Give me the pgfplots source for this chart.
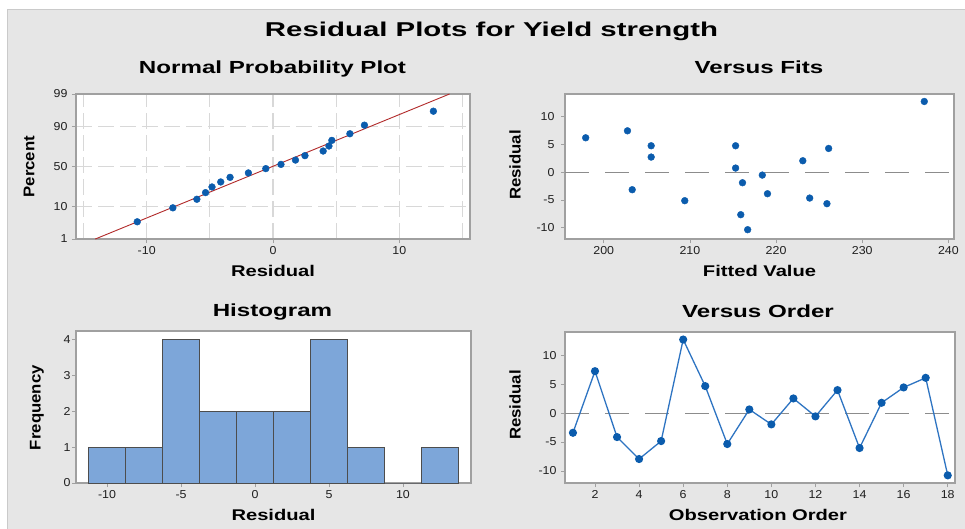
\documentclass[border=0pt]{standalone}
\usepackage{pgfplots}
\pgfplotsset{compat=1.18}
\usepackage{fontspec}
\setmainfont{Liberation Sans}
\newfontfamily\tickfont[FakeStretch=1.08]{Liberation Sans}
\newfontfamily\labfont[FakeStretch=1.30]{Liberation Sans}
\newfontfamily\ylabfont[FakeStretch=1.08]{Liberation Sans}
\newfontfamily\subfont[FakeStretch=1.38]{Liberation Sans}
\newfontfamily\bigttlfont[FakeStretch=1.47]{Liberation Sans}

\definecolor{bggray}{HTML}{E6E6E6}
\definecolor{bgline}{HTML}{CACACA}
\definecolor{framegray}{HTML}{A0A0A0}
\definecolor{gridgray}{HTML}{D8D8D8}
\definecolor{refgray}{HTML}{8C8C8C}
\definecolor{ptblue}{HTML}{0B5CAD}
\definecolor{lineblue}{HTML}{2E74C2}
\definecolor{barblue}{HTML}{7DA6D9}
\definecolor{baredge}{HTML}{4D4D4D}
\definecolor{fitred}{HTML}{B22A2A}

\pgfplotsset{
  mystyle/.style={
    scale only axis,
    anchor=south west,
    axis background/.style={fill=white},
    axis line style={draw=framegray, line width=1.1pt},
    tick style={draw=framegray, line width=0.8pt},
    tick align=outside,
    major tick length=4pt,
    minor tick length=0pt,
    tick pos=left,
    tick label style={font=\tickfont\fontsize{11.5}{13}\selectfont, text=black!88},
    /pgf/number format/assume math mode=true,
  },
  ptstyle/.style={only marks, mark=*, mark size=3.4pt, mark options={draw=ptblue, fill=ptblue}},
  refline/.style={refgray, line width=1.1pt, dash pattern=on 24pt off 16pt, forget plot},
}

\begin{document}
\begin{tikzpicture}
\fill[white] (0,0) rectangle (965pt,528pt);
\filldraw[fill=bggray, draw=bgline, line width=0.6pt] (7pt,-1pt) rectangle (966pt,519pt);

% ---------- Normal probability plot ----------
\begin{axis}[mystyle, at={(76pt,289pt)}, width=394pt, height=145pt,
  xmin=-15.6, xmax=15.6, ymin=-2.326, ymax=2.326,
  xtick={-10,0,10}, minor xtick={-15,-5,5,15},
  ytick={-2.326,-1.2816,0,1.2816,2.326}, yticklabels={1,10,50,90,99},
  grid=both,
  major grid style={gridgray, line width=1.1pt, dash pattern=on 16pt off 6pt},
  minor grid style={gridgray, line width=1.1pt, dash pattern=on 16pt off 6pt},
  yticklabel style={xshift=-1pt}]
\addplot[fitred, line width=0.9pt] coordinates {(-14.07,-2.326) (13.98,2.326)};
\addplot[ptstyle] table {
x z
-10.75 -1.774
-7.93 -1.326
-6.03 -1.051
-5.34 -0.838
-4.83 -0.657
-4.14 -0.496
-3.40 -0.348
-1.95 -0.206
-0.57 -0.068
0.63 0.068
1.78 0.206
2.53 0.348
3.97 0.496
4.43 0.657
4.66 0.838
6.09 1.051
7.24 1.326
12.70 1.774
};
\end{axis}

% ---------- Versus fits ----------
\begin{axis}[mystyle, at={(565pt,289pt)}, width=389pt, height=145pt,
  xmin=195.5, xmax=240.65, ymin=-12, ymax=14,
  xtick={200,210,220,230,240}, ytick={-10,-5,0,5,10},
  yticklabel style={xshift=-3pt}]
\addplot[refline] coordinates {(195.5,0) (240.65,0)};
\addplot[ptstyle] table {
fit res
197.9 6.15
202.75 7.40
203.3 -3.16
205.5 4.72
205.5 2.69
209.4 -5.13
215.3 4.72
215.3 0.72
215.9 -7.64
216.1 -1.91
216.7 -10.33
218.4 -0.54
219.0 -3.88
223.1 2.03
223.9 -4.66
225.9 -5.67
226.1 4.24
237.2 12.66
};
\end{axis}

% ---------- Histogram ----------
\begin{axis}[mystyle, at={(76pt,45pt)}, width=395pt, height=152pt,
  xmin=-12.1, xmax=14.6, ymin=0, ymax=4.23,
  xtick={-10,-5,0,5,10}, ytick={0,1,2,3,4},
  yticklabel style={xshift=2pt}]
\addplot[ybar interval, fill=barblue, draw=baredge, line width=1pt] coordinates {
(-11.25,1) (-8.75,1) (-6.25,4) (-3.75,2) (-1.25,2) (1.25,2) (3.75,4) (6.25,1) (8.75,0) (11.25,1) (13.75,1)};
\end{axis}

% ---------- Versus order ----------
\begin{axis}[mystyle, at={(565pt,45pt)}, width=390pt, height=151pt,
  xmin=0.64, xmax=18.33, ymin=-12.07, ymax=14,
  xtick={2,4,6,8,10,12,14,16,18}, ytick={-10,-5,0,5,10},
  yticklabel style={xshift=-1pt}]
\addplot[refline] coordinates {(0.64,0) (18.33,0)};
\addplot[lineblue, line width=1.3pt, mark=*, mark size=3.4pt, mark options={draw=ptblue, fill=ptblue}] table {
obs res
1 -3.40
2 7.24
3 -4.14
4 -7.93
5 -4.83
6 12.70
7 4.66
8 -5.34
9 0.63
10 -1.95
11 2.53
12 -0.57
13 3.97
14 -6.03
15 1.78
16 4.43
17 6.09
18 -10.75
};
\end{axis}

% ---------- Titles and labels ----------
\node[anchor=base, font=\bigttlfont\bfseries\fontsize{20}{24}\selectfont] at (491.5pt,491.3pt) {Residual Plots for Yield strength};
\node[anchor=base, font=\subfont\bfseries\fontsize{17.5}{20}\selectfont] at (272.5pt,454pt) {Normal Probability Plot};
\node[anchor=base, font=\subfont\bfseries\fontsize{17.5}{20}\selectfont] at (759pt,454pt) {Versus Fits};
\node[anchor=base, font=\subfont\bfseries\fontsize{17.5}{20}\selectfont] at (272.5pt,211.3pt) {Histogram};
\node[anchor=base, font=\subfont\bfseries\fontsize{17.5}{20}\selectfont] at (758pt,210.7pt) {Versus Order};

\node[anchor=base, font=\labfont\bfseries\fontsize{15.5}{18}\selectfont] at (273pt,251.3pt) {Residual};
\node[anchor=base, font=\labfont\bfseries\fontsize{15.5}{18}\selectfont] at (759.5pt,251.3pt) {Fitted Value};
\node[anchor=base, font=\labfont\bfseries\fontsize{15.5}{18}\selectfont] at (273.5pt,7.3pt) {Residual};
\node[anchor=base, font=\labfont\bfseries\fontsize{15.5}{18}\selectfont] at (758pt,7.3pt) {Observation Order};

\node[rotate=90, font=\ylabfont\bfseries\fontsize{15.5}{18}\selectfont] at (29pt,361.3pt) {Percent};
\node[rotate=90, font=\ylabfont\bfseries\fontsize{15.5}{18}\selectfont] at (515pt,363pt) {Residual};
\node[rotate=90, font=\ylabfont\bfseries\fontsize{15.5}{18}\selectfont] at (37pt,120.3pt) {Frequency};
\node[rotate=90, font=\ylabfont\bfseries\fontsize{15.5}{18}\selectfont] at (515pt,123pt) {Residual};

\pgfresetboundingbox
\path[use as bounding box] (0,0) rectangle (965pt,528pt);
\end{tikzpicture}
\end{document}
